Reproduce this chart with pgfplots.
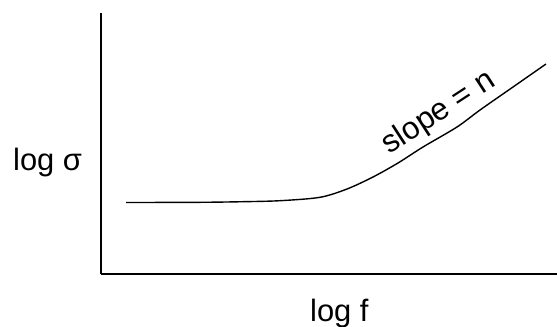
\documentclass[border=0pt]{standalone}
\usepackage{fontspec}
\setmainfont{Liberation Sans}
\usepackage{pgfplots}
\pgfplotsset{compat=1.18}
\begin{document}
\begin{tikzpicture}
\begin{axis}[
  x=1bp, y=1bp,
  xmin=101, xmax=557, ymin=52, ymax=313,
  axis x line*=bottom, axis y line*=left,
  axis line style={-, line width=1.6bp, black},
  xtick=\empty, ytick=\empty,
  clip=false,
]
\addplot[black, line width=1.4bp, smooth, tension=0.5] coordinates {
(126,123.5) (200,123.7) (243,124.3) (280,125.3) (320,128.7) (347,137)
(373,149) (398,163) (423,179) (457,199) (480,216) (513,239) (546,262)
};
\node[anchor=base west, inner sep=0pt, font=\fontsize{31}{36}\selectfont] at (axis cs:13,156) {log σ};
\node[anchor=base west, inner sep=0pt, font=\fontsize{31}{36}\selectfont] at (axis cs:310,5) {log f};
\node[rotate=33, inner sep=0pt, font=\fontsize{31.5}{36}\selectfont] at (axis cs:439,213) {slope = n};
\coordinate (bbA) at (axis cs:0,0);
\coordinate (bbB) at (axis cs:557,326);
\end{axis}
\pgfresetboundingbox
\path (bbA) rectangle (bbB);
\end{tikzpicture}
\end{document}
